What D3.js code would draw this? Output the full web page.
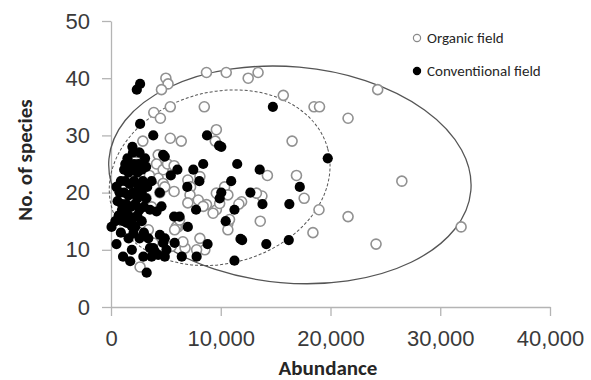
<!DOCTYPE html>
<html>
<head>
<meta charset="utf-8">
<script src="https://cdn.jsdelivr.net/npm/d3@7"></script>
<style>
	body { margin: 0; background: #fff; }
	svg { display: block; font-family: Carlito, Lato, sans-serif; }
	.axis path, .axis line { stroke: #b4b4b4; stroke-width: 1.3; }
	.axis text { fill: #3a3a3a; font-size: 22px; }
</style>
</head>
<body>
<div id="chart"></div>
<script>
// tick labels
const xTicks = [0, 10000, 20000, 30000, 40000];
const yTicks = [0, 10, 20, 30, 40, 50];

// Organic field: [abundance, no. of species]
const organic = [
	[5000, 40], [5200, 39], [4600, 38], [8700, 41], [10500, 41], [12500, 40], [13400, 41],
	[15700, 37], [18500, 35], [19000, 35], [21600, 33], [24300, 38], [16500, 29], [8500, 35],
	[3900, 34], [4500, 33], [5400, 35], [9600, 31], [9500, 29], [5400, 29.5], [6400, 29],
	[2900, 29], [2400, 27], [4300, 26.6], [4150, 25], [4750, 24], [4300, 22.5], [4750, 21.6],
	[4450, 20], [5150, 25], [5750, 24.7], [4900, 21], [5750, 20.2], [7000, 22.2], [7250, 21],
	[7200, 19.6], [8100, 22.8], [7000, 18.2], [7950, 18.7], [8700, 17.9], [9600, 17],
	[10350, 21], [10200, 19.6], [11900, 18.4], [14250, 23], [16900, 23], [17600, 19],
	[18950, 17], [21600, 15.8], [18400, 13], [13600, 15], [11650, 18], [10650, 14.6],
	[10800, 15.3], [13750, 19.4], [13250, 19.9], [10650, 19.6], [26500, 22], [31900, 14],
	[24150, 11], [6100, 14], [8100, 12], [8550, 10], [6750, 10.3], [10650, 13.5],
	[3850, 11.2], [5500, 10.6], [5950, 14], [5800, 13.5], [2650, 7], [6250, 15.2],
	[8400, 17.6], [9600, 19.9], [9900, 18.1], [9300, 16.4], [6550, 11.4], [7800, 10],
	[3000, 25.5], [3500, 23], [3200, 19], [3700, 17.5], [3400, 13.5]
];

// Conventional field: [abundance, no. of species]
const conventional = [
	[2650, 39], [2350, 38], [2650, 32], [3850, 30], [1950, 28], [8750, 30], [9850, 28.2],
	[14750, 35], [19750, 26], [10050, 28], [11500, 25], [13550, 24], [8400, 25], [8050, 22],
	[6950, 21], [7500, 24], [6050, 24], [5450, 23], [4900, 26.3], [4750, 26.6], [10050, 20],
	[9900, 19], [7750, 17], [11250, 17], [5750, 15.8], [6250, 15.8], [10950, 22], [17200, 21],
	[16250, 18], [13800, 18], [12700, 20], [10450, 15], [11950, 11.7], [14150, 11],
	[16200, 11.7], [11250, 8.1], [5800, 11.2], [6450, 8.8], [7800, 8.8], [8800, 11],
	[4900, 12], [4900, 8.8], [11800, 11.9], [7000, 14],
	[50, 14], [500, 11], [1100, 8.8], [1750, 8], [3250, 6], [2950, 8.8], [3700, 8.8],
	[4300, 9.1], [1900, 10], [1600, 12], [3850, 10.3], [1000, 18], [1000, 17], [1250, 16.4],
	[1450, 14.7], [1900, 14.1], [2050, 12.9], [4450, 20], [4600, 17.6], [3550, 17],
	[4150, 16.7], [4450, 12.6], [4750, 11.2], [5050, 10], [3550, 10.3], [4000, 9.7],
	[1300, 25], [1700, 25], [2100, 25], [2500, 25], [2900, 25], [1200, 24], [1600, 23.5],
	[2000, 24], [2400, 23.5], [2800, 24], [3200, 24.5], [900, 22], [1300, 22], [1700, 21.5],
	[2100, 22], [2500, 21], [2900, 22], [3300, 21], [3700, 22], [500, 21], [800, 20],
	[1200, 20], [1600, 19.5], [2000, 20], [2400, 19], [2800, 20], [3200, 19], [600, 18.5],
	[1400, 18], [1800, 17.5], [2200, 18], [2600, 17], [3000, 17.5], [1600, 16], [2000, 15.5],
	[2400, 16], [2800, 15], [1100, 15], [2200, 14], [3000, 13], [2600, 12], [3400, 12],
	[700, 16], [400, 15], [900, 13], [2000, 27], [2600, 27], [3100, 26], [1500, 26]
];

// ellipses: centre (abundance, species), half-axes (abundance, species), tilt in degrees
const ellipseCentres = [[16300, 23.1], [9900, 22.6]];
const ellipseRadii = [[16550, 18.9], [10200, 15]];
const ellipseTilt = [5, -15];
const ellipseDash = [null, '3,2'];

const seriesNames = ['Organic field', 'Conventiional field'];

const width = 591, height = 380;

const svg = d3.select('#chart').append('svg')
	.attr('width', width)
	.attr('height', height);

const x = d3.scaleLinear().domain([0, 40000]).range([111, 550]);
const y = d3.scaleLinear().domain([0, 50]).range([307, 21]);

svg.append('g')
	.attr('class', 'axis')
	.attr('transform', 'translate(0,' + y(0) + ')')
	.call(d3.axisBottom(x).tickValues(xTicks).tickFormat(d3.format(','))
		.tickSize(9).tickSizeOuter(0).tickPadding(14));

svg.append('g')
	.attr('class', 'axis')
	.attr('transform', 'translate(' + x(0) + ',0)')
	.call(d3.axisLeft(y).tickValues(yTicks).tickSize(9).tickSizeOuter(0).tickPadding(12));

// axis titles
svg.append('text')
	.attr('x', 328)
	.attr('y', 375)
	.attr('text-anchor', 'middle')
	.style('font-size', '21px')
	.style('font-weight', 'bold')
	.style('fill', '#262626')
	.text('Abundance');

svg.append('text')
	.attr('transform', 'translate(32,160) rotate(-90)')
	.attr('text-anchor', 'middle')
	.style('font-size', '21px')
	.style('font-weight', 'bold')
	.style('fill', '#262626')
	.text('No. of species');

// ellipses
ellipseCentres.forEach((c, i) => {
	const cx = x(c[0]), cy = y(c[1]);
	svg.append('ellipse')
		.attr('cx', cx)
		.attr('cy', cy)
		.attr('rx', x(ellipseRadii[i][0]) - x(0))
		.attr('ry', y(0) - y(ellipseRadii[i][1]))
		.attr('transform', 'rotate(' + ellipseTilt[i] + ',' + cx + ',' + cy + ')')
		.attr('fill', 'none')
		.attr('stroke', '#555')
		.attr('stroke-width', ellipseDash[i] ? 1 : 1.3)
		.attr('stroke-dasharray', ellipseDash[i]);
});

// points
svg.append('g').selectAll('circle')
	.data(organic)
	.enter().append('circle')
	.attr('cx', d => x(d[0]))
	.attr('cy', d => y(d[1]))
	.attr('r', 5)
	.attr('fill', '#fff')
	.attr('stroke', '#919191')
	.attr('stroke-width', 1.6);

svg.append('g').selectAll('circle')
	.data(conventional)
	.enter().append('circle')
	.attr('cx', d => x(d[0]))
	.attr('cy', d => y(d[1]))
	.attr('r', 5.1)
	.attr('fill', '#000');

// legend
const legend = svg.append('g');
seriesNames.forEach((name, i) => {
	const ly = 38 + i * 33;
	legend.append('circle')
		.attr('cx', 417)
		.attr('cy', ly)
		.attr('r', 3.6)
		.attr('fill', i ? '#000' : '#fff')
		.attr('stroke', i ? '#000' : '#8a8a8a')
		.attr('stroke-width', 1.2);
	legend.append('text')
		.attr('x', 427)
		.attr('y', ly + 5)
		.style('font-size', '15px')
		.style('fill', '#262626')
		.text(name);
});
</script>
</body>
</html>
